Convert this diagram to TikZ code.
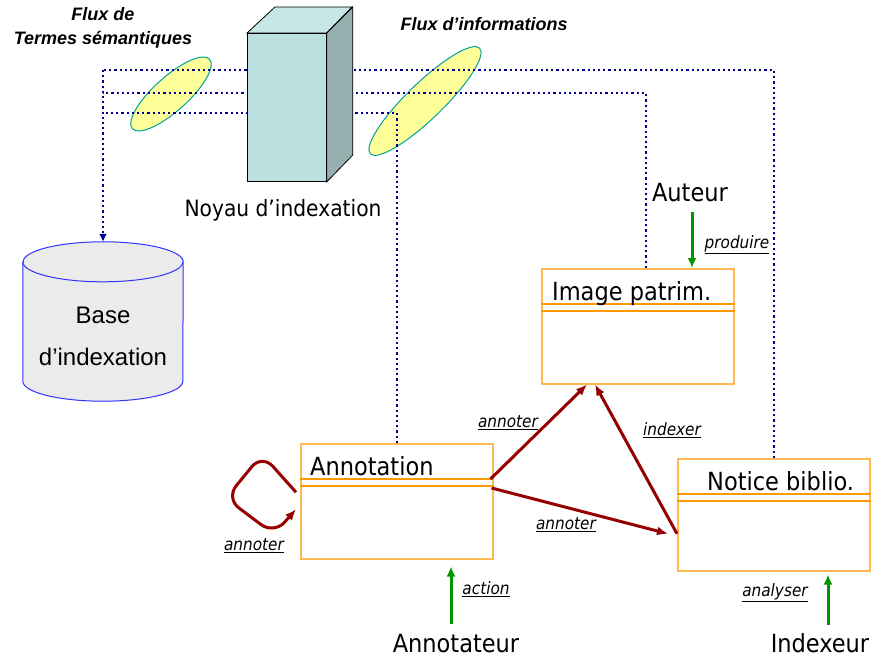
\documentclass[tikz,border=0pt]{standalone}
\usepackage{fontspec}
\setmainfont{Liberation Sans}
\newfontfamily\tahoma{DejaVu Sans Condensed}
\usetikzlibrary{arrows.meta,calc}

\definecolor{fluxblue}{RGB}{0,0,140}
\definecolor{boxorange}{RGB}{255,185,80}
\definecolor{sepOrange}{RGB}{255,153,0}
\definecolor{linkred}{RGB}{150,0,0}
\definecolor{actgreen}{RGB}{0,150,0}
\definecolor{ellfill}{RGB}{255,255,153}
\definecolor{elldraw}{RGB}{0,160,160}
\definecolor{cubefront}{RGB}{188,224,224}
\definecolor{cubetop}{RGB}{200,230,232}
\definecolor{cubeside}{RGB}{150,176,176}
\definecolor{cylfill}{RGB}{235,235,235}
\definecolor{cylline}{RGB}{50,50,255}

\begin{document}
\begin{tikzpicture}[x=1pt,y=1pt,
class box/.style={draw=boxorange,line width=1.5pt,minimum width=192pt,minimum height=115pt,inner sep=0pt,anchor=north west},
class name/.style={anchor=base west,font=\tahoma\fontsize{25}{30}\selectfont,inner sep=0pt},
actor/.style={font=\tahoma\fontsize{25}{30}\selectfont},
flux line/.style={draw=fluxblue,line width=2.2pt,dash pattern=on 2.2pt off 3pt},
red arrow/.style={draw=linkred,line width=3pt,-{Latex[length=11pt,width=9pt]}},
act arrow/.style={draw=actgreen,line width=3pt,-{Latex[length=10pt,width=9pt]}},
role/.style={font=\tahoma\itshape\fontsize{17}{20}\selectfont,inner sep=0pt},
flux label/.style={font=\bfseries\itshape\fontsize{18}{24}\selectfont,align=center}]

\useasboundingbox (0,0) rectangle (874,-660);

% flux ellipses
\filldraw[fill=ellfill,draw=elldraw,line width=1pt,rotate around={42:(171,-94)}] (171,-94) ellipse (52pt and 17pt);
\filldraw[fill=ellfill,draw=elldraw,line width=1pt,rotate around={44:(425,-101)}] (425,-101) ellipse (76pt and 18pt);

\node[flux label] (fluxterm) at (103,-28) {Flux de\\Termes sémantiques};
\node[flux label] (fluxinfo) at (484,-24) {Flux d’informations};

% classes
\node[class box] (image) at (541,-268) {};
\node[class box] (annot) at (300,-443) {};
\node[class box,minimum height=112pt] (notice) at (677,-458) {};
\foreach \b in {image,annot,notice}
  \draw[sepOrange,line width=1.2pt] ($(\b.north west)+(0,-36)$) -- ($(\b.north east)+(0,-36)$)
    ($(\b.north west)+(0,-43)$) -- ($(\b.north east)+(0,-43)$);
\node[class name] at ($(image.north west)+(11,-32)$) {Image patrim.};
\node[class name] at ($(annot.north west)+(10,-32)$) {Annotation};
\node[class name] at ($(notice.north west)+(30,-32)$) {Notice biblio.};

% base d'indexation
\node[minimum width=160pt,minimum height=159pt,inner sep=0pt] (base) at (103,-321.5) {};
\filldraw[fill=cylfill,draw=cylline,line width=1pt] ($(base.north west)+(0,-20)$) -- ($(base.south west)+(0,20)$)
  arc(180:360:80pt and 20pt) -- ($(base.north east)+(0,-20)$) arc(0:180:80pt and 20pt) -- cycle;
\draw[cylline,line width=1pt] ($(base.north west)+(0,-20)$) arc(180:360:80pt and 20pt);
\node[align=center,font=\fontsize{24}{42}\selectfont] at ($(base.center)+(0,-15)$) {Base\\d’indexation};

% flux lines
\coordinate (j1) at (103,-70);
\coordinate (j2) at (103,-93);
\coordinate (j3) at (103,-113);
\draw[flux line] (notice.north) |- (j1);
\draw[flux line] ($(image.north)+(8,0)$) |- (j2);
\draw[flux line] (annot.north) |- (j3);
\draw[flux line,-{Latex[length=8pt,width=8pt]}] (j1) -- (base.north);

% noyau
\node[draw,fill=cubefront,line width=0.8pt,minimum width=79pt,minimum height=148pt,inner sep=0pt,anchor=north west] (noyau) at (247,-33) {};
\filldraw[fill=cubetop,line width=0.8pt] (noyau.north west) -- ++(28,26) -- ++(77,0) -- (noyau.north east) -- cycle;
\filldraw[fill=cubeside,line width=0.8pt] (noyau.north east) -- ++(26,26) -- ++(0,-148) -- (noyau.south east) -- cycle;
\node[actor,font=\tahoma\fontsize{22.5}{26}\selectfont] (noyaulbl) at (283,-210) {Noyau d’indexation};

% links
\draw[red arrow] ($(annot.north east)+(-3,-36)$) -- ($(image.south west)+(46,0)$);
\draw[red arrow] ($(annot.north east)+(-2,-45)$) -- ($(notice.west)+(-9,-19)$);
\draw[red arrow] ($(notice.west)+(0,-19)$) -- ($(image.south west)+(54,0)$);
\draw[red arrow,rounded corners=16pt] ($(annot.west)+(-4,9)$) -- ++(-34,38) -- ++(-36,-44) -- ++(48,-36) -- ($(annot.west)+(-4,-8)$);
\node[role] at (508,-423) {\underline{annoter}};
\node[role] at (566,-525) {\underline{annoter}};
\node[role] at (672,-430) {\underline{indexer}};
\node[role] at (254,-546) {\underline{annoter}};

% actors
\node[actor] (auteur) at (690,-193) {Auteur};
\node[actor] (annotateur) at (456,-644) {Annotateur};
\node[actor] (indexeur) at (820,-643) {Indexeur};
\coordinate (aut) at ($(auteur.south)+(2,-6)$);
\coordinate (ann) at ($(annotateur.north)+(-5,7)$);
\coordinate (idx) at ($(indexeur.north)+(8,5)$);
\draw[act arrow] (aut) -- (aut |- image.north);
\draw[act arrow] (ann) -- ($(ann |- annot.south)+(0,-7)$);
\draw[act arrow] (idx) -- ($(idx |- notice.south)+(0,-3)$);
\node[role] at (737,-245) {\underline{produire}};
\node[role] at (486,-589) {\underline{action}};
\node[role] at (775,-593) {\underline{analyser}};

\end{tikzpicture}
\end{document}
